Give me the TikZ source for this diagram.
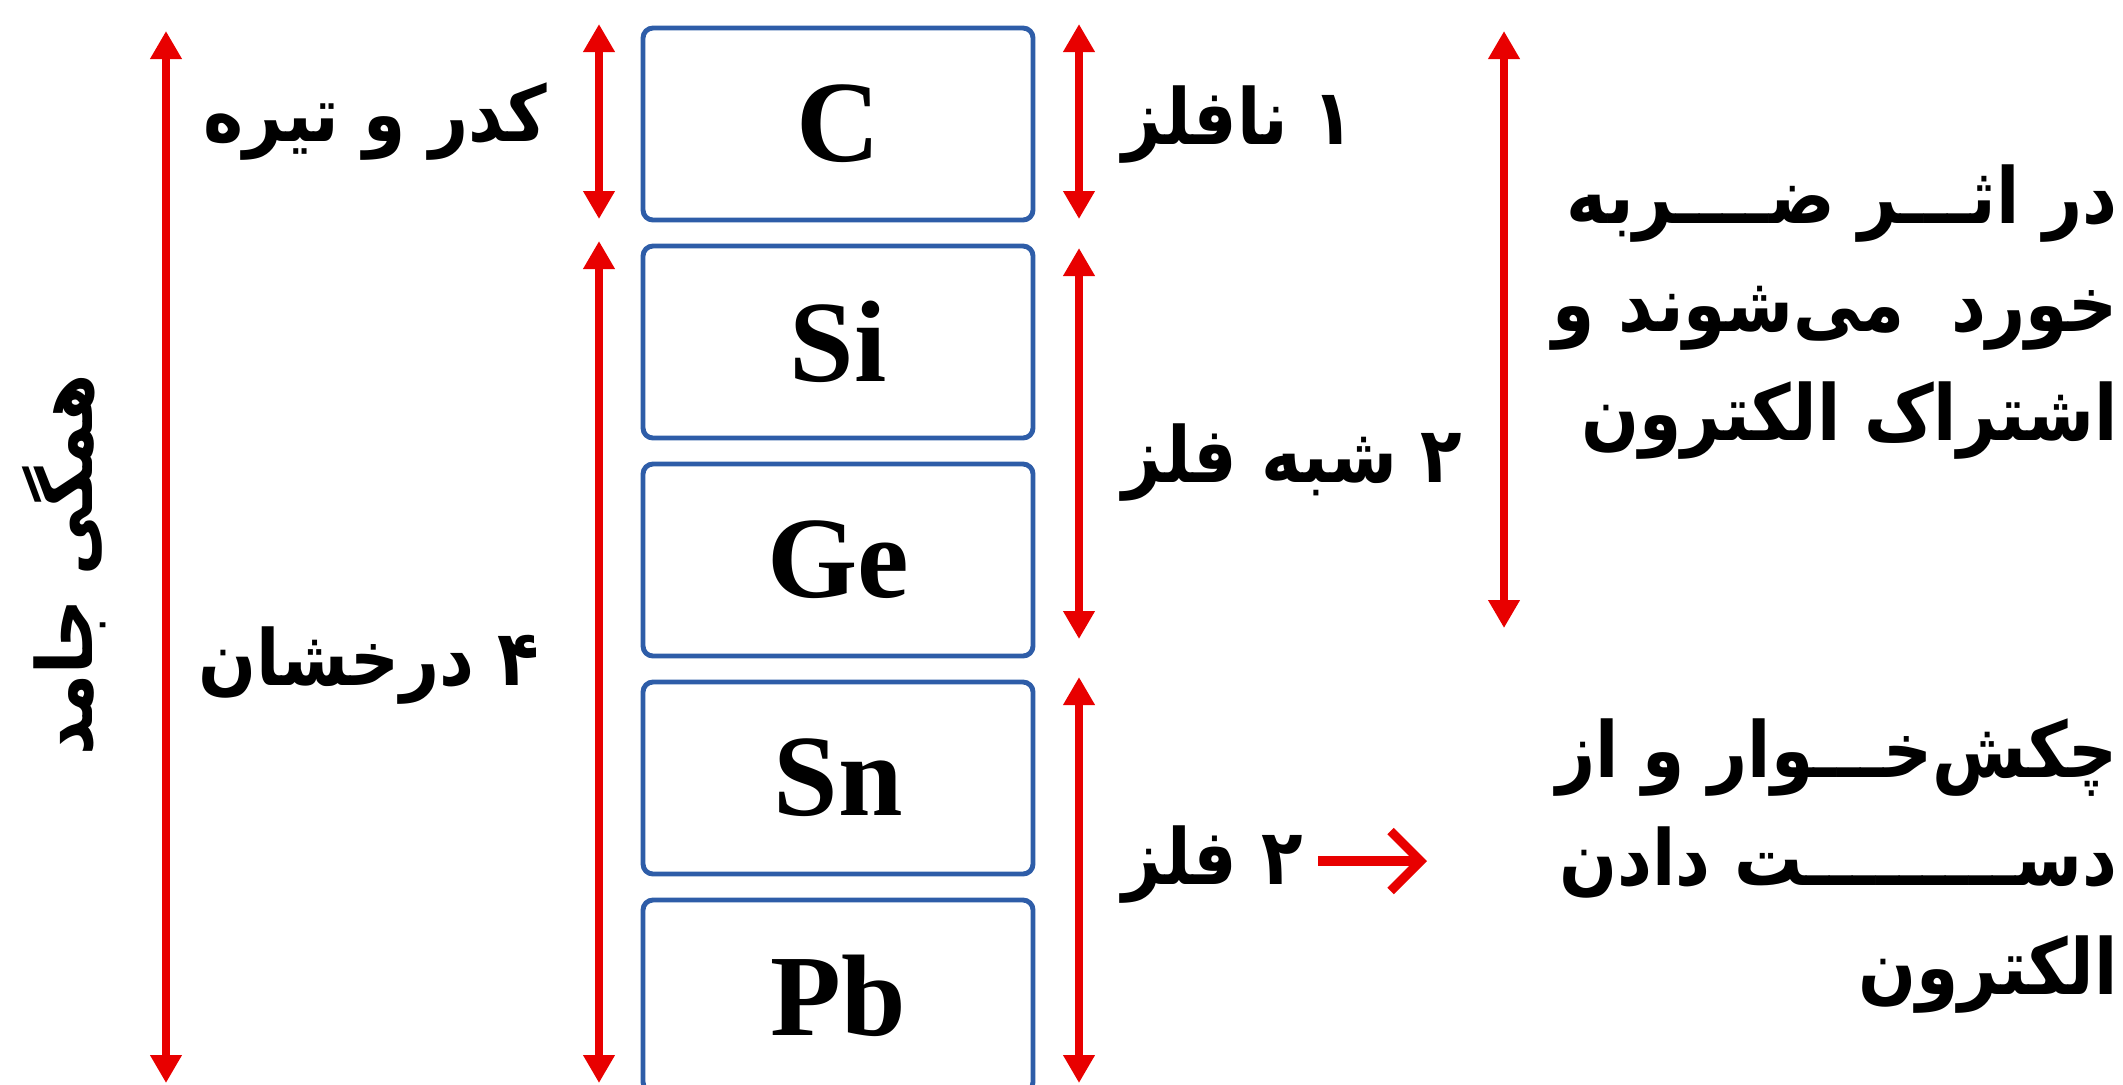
\documentclass[tikz,border=0pt]{standalone}
\usepackage{fontspec}
\setmainfont{Liberation Serif}
\newfontfamily\farsi[Script=Arabic, FakeStretch=0.88]{DejaVu Sans}
\TeXXeTstate=1
\usetikzlibrary{arrows.meta}
\definecolor{boxblue}{RGB}{46,93,168}
\definecolor{arrred}{RGB}{232,0,0}
\newcommand{\fatxt}[1]{\beginR #1\endR}

\begin{document}
\begin{tikzpicture}
	\tikzset{elem/.style={draw=boxblue, line width=1.4pt, rounded corners=0.1cm, minimum width=3.9cm, minimum height=1.92cm, inner sep=0pt, font=\bfseries\fontsize{33}{33}\selectfont},
	lbl/.style={inner sep=0pt, font=\farsi\bfseries\fontsize{22}{26}\selectfont},
	para/.style={lbl, align=right, anchor=east, font=\farsi\bfseries\fontsize{22}{31}\selectfont},
	arr/.style={draw=arrred, line width=2.4pt, {Triangle[length=2.8mm,width=3mm]}-{Triangle[length=2.8mm,width=3mm]}}};
	\useasboundingbox (0,0) rectangle (21.23,-10.84);
	\clip (0,0) rectangle (21.23,-10.84);

	\foreach \el/\k in {C/0, Si/1, Ge/2, Sn/3, Pb/4}{
		\node[elem] (\el) at (8.38, -1.24-2.18*\k) {\el};
	}

	\foreach \i/\x/\ya/\yb in {1/1.66/0.31/10.83, 2/5.99/0.24/2.19, 3/5.99/2.41/10.83,
	4/10.79/0.24/2.19, 5/10.79/2.48/6.39, 6/10.79/6.77/10.83, 7/15.04/0.31/6.28}{
		\coordinate (t\i) at (\x, -\ya);
		\coordinate (b\i) at (\x, -\yb);
		\draw[arr] (t\i) -- (b\i);
	}

	\node[lbl, rotate=90] (hamegi) at (0.64, -5.65) {\fatxt{همگی جامد}};
	\node[lbl, anchor=east] (kadar) at (5.48, -1.22) {\fatxt{کدر و تیره}};
	\node[lbl, anchor=east] (derakhshan) at (5.40, -6.66) {\fatxt{۴ درخشان}};
	\node[lbl, anchor=west] (nafelez) at (11.22, -1.25) {\fatxt{۱ نافلز}};
	\node[lbl, anchor=west] (shebh) at (11.22, -4.63) {\fatxt{۲ شبه فلز}};
	\node[lbl, anchor=west] (felez) at (11.22, -8.65) {\fatxt{۲ فلز}};

	\coordinate (hs) at (13.18, -8.61);
	\coordinate (he) at (14.27, -8.61);
	\draw[draw=arrred, line width=2.6pt, -{Straight Barb[length=3mm,width=6mm]}] (hs) -- (he);

	\node[para] (zarbe) at (21.18, -3.12) {\fatxt{در اثـــر ضــــربه}\\ \fatxt{خورد\ \ می‌شوند و}\\ \fatxt{اشتراک الکترون}};
	\node[para] (chakosh) at (21.18, -8.66) {\fatxt{چکش‌خـــوار و از}\\ \fatxt{دســـــــــت دادن}\\ \fatxt{الکترون}};
\end{tikzpicture}
\end{document}
